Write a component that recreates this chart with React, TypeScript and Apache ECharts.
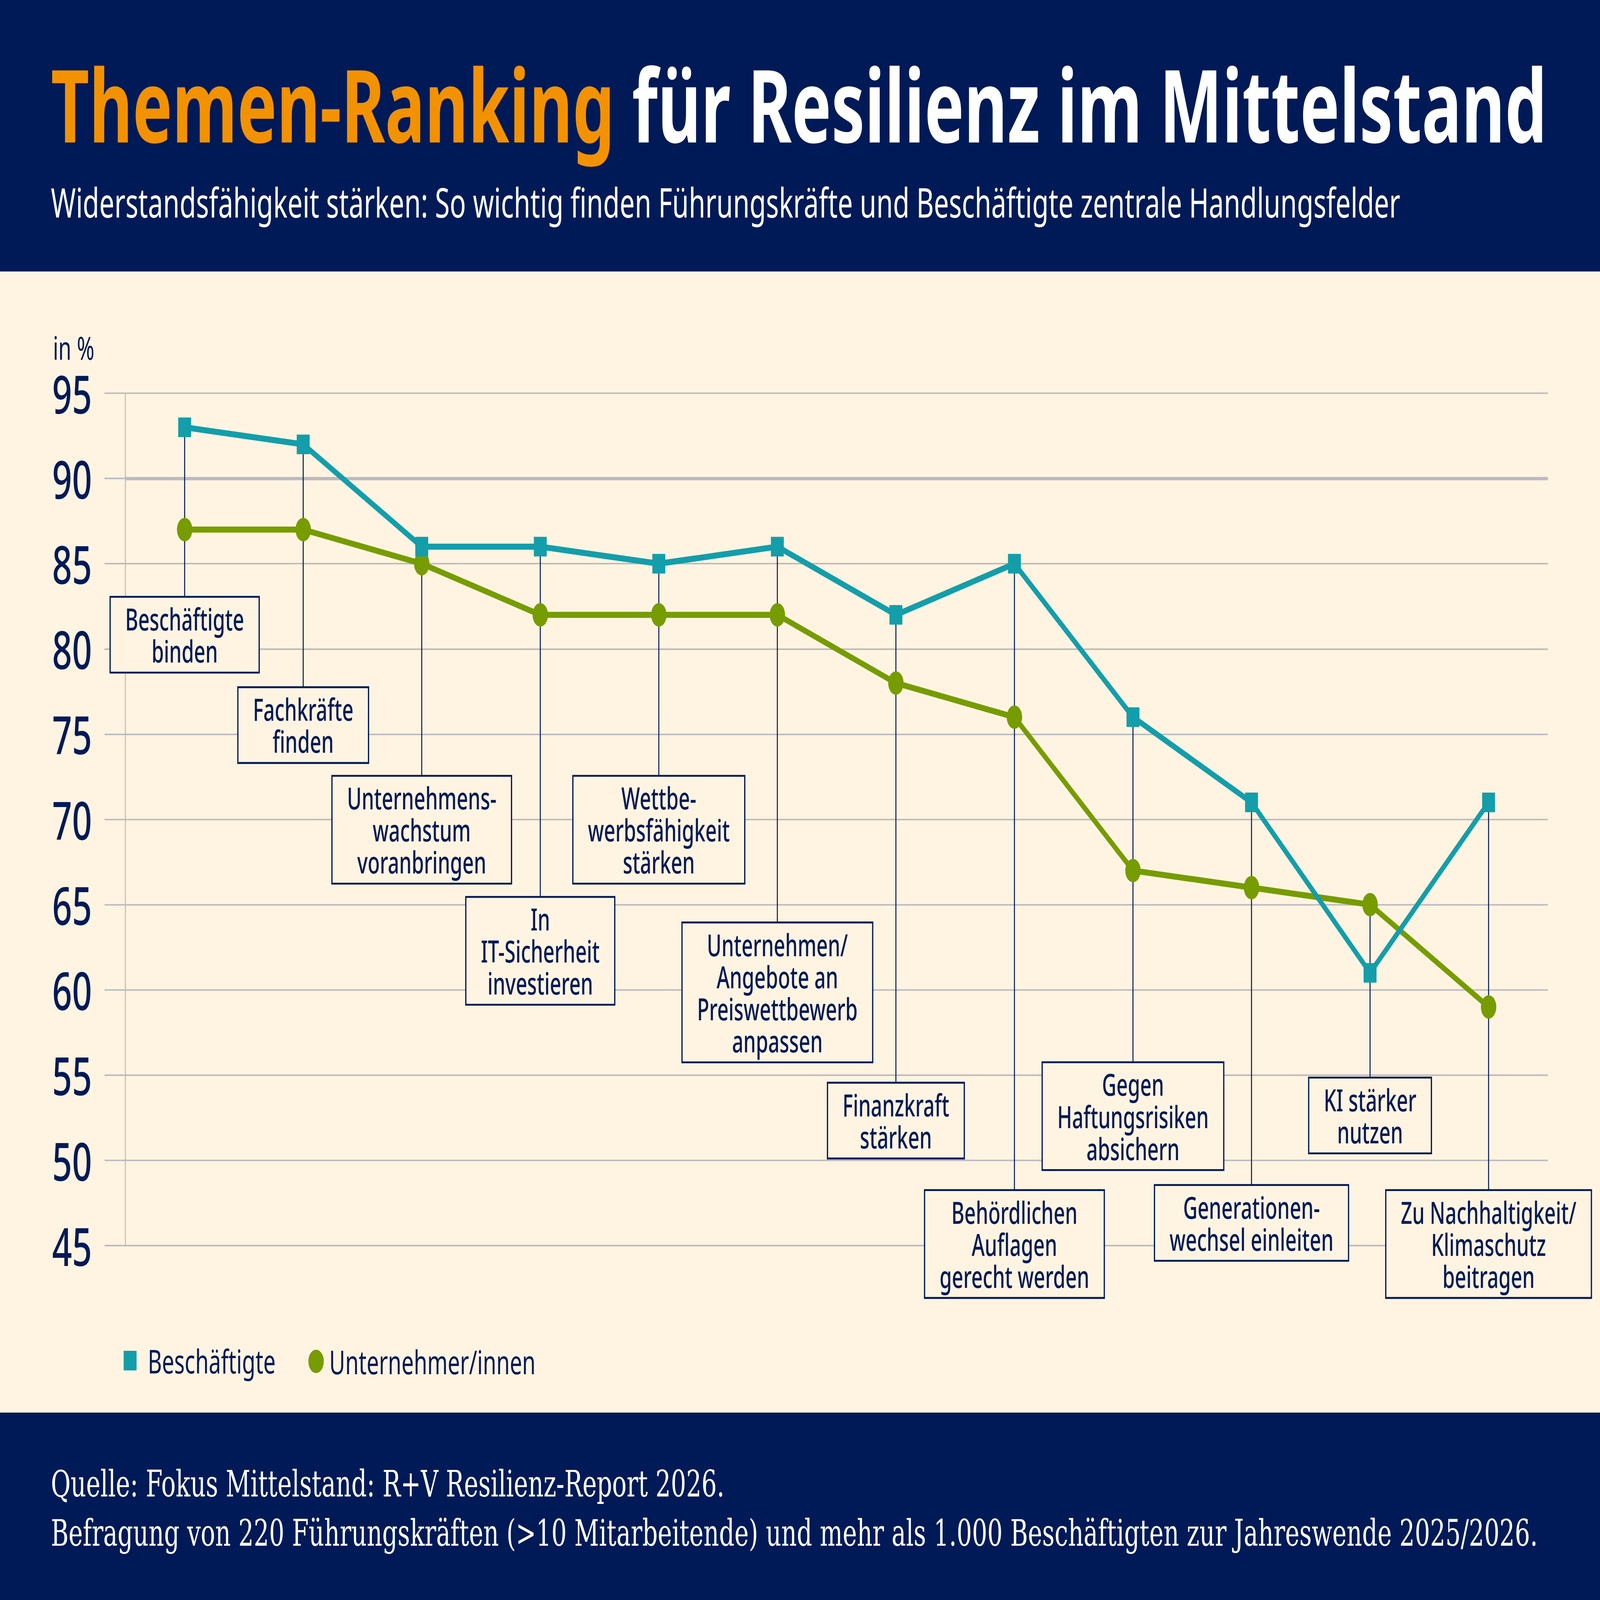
import React, { useEffect, useRef } from 'react'
import * as echarts from 'echarts'

const categories = [
  'Beschäftigte\nbinden',
  'Fachkräfte\nfinden',
  'Unternehmens-\nwachstum\nvoranbringen',
  'In\nIT-Sicherheit\ninvestieren',
  'Wettbe-\nwerbsfähigkeit\nstärken',
  'Unternehmen/\nAngebote an\nPreiswettbewerb\nanpassen',
  'Finanzkraft\nstärken',
  'Behördlichen\nAuflagen\ngerecht werden',
  'Gegen\nHaftungsrisiken\nabsichern',
  'Generationen-\nwechsel einleiten',
  'KI stärker\nnutzen',
  'Zu Nachhaltigkeit/\nKlimaschutz\nbeitragen',
]
const beschaeftigte = [93, 92, 86, 86, 85, 86, 82, 85, 76, 71, 61, 71]
const unternehmer = [87, 87, 85, 82, 82, 82, 78, 76, 67, 66, 65, 59]
// top edge of each label box, in axis units
const boxTop = [83, 77.7, 72.5, 65.4, 72.5, 63.9, 54.5, 48.2, 55.7, 48.5, 54.8, 48.2]
const yMin = 45
const yMax = 95
const yStep = 5

const W = 6444
const H = 4244
const NAVY = '#001A57'
const ORANGE = '#F39200'
const TEAL = '#139EAA'
const GREEN = '#769C00'
const CREAM = '#FFF4E1'
const GRID = '#BCB9C1'
const SANS = "'Noto Sans', sans-serif"
const SERIF = "'DejaVu Serif', serif"

export default function App() {
  const ref = useRef<HTMLDivElement | null>(null)
  // the window may be smaller than the drawing: stretch the drawing onto it
  const vw = window.innerWidth || W
  const vh = window.innerHeight || H

  useEffect(() => {
    if (!ref.current) return
    const chart = echarts.init(ref.current, null, { renderer: 'svg' })

    chart.setOption({
      animation: false,
      backgroundColor: CREAM,
      graphic: [
        { type: 'rect', shape: { x: 0, y: 0, width: W, height: 720 }, style: { fill: NAVY }, z: 0 },
        { type: 'rect', shape: { x: 0, y: 3747, width: W, height: H - 3747 }, style: { fill: NAVY }, z: 0 },
        {
          type: 'text', x: 205, y: 274, z: 10,
          style: {
            text: '{o|Themen-Ranking}{w| für Resilienz im Mittelstand}',
            verticalAlign: 'middle',
            rich: {
              o: { fill: ORANGE, fontSize: 268, fontWeight: 'bold', fontFamily: SANS },
              w: { fill: '#FFFFFF', fontSize: 268, fontWeight: 'bold', fontFamily: SANS },
            },
          },
        },
        {
          type: 'text', x: 205, y: 536, z: 10,
          style: {
            text: 'Widerstandsfähigkeit stärken: So wichtig finden Führungskräfte und Beschäftigte zentrale Handlungsfelder',
            fill: '#FFFFFF', fontSize: 108, fontFamily: SANS, verticalAlign: 'middle',
          },
        },
        {
          type: 'text', x: 213, y: 921, z: 10,
          style: { text: 'in %', fill: NAVY, fontSize: 85, fontFamily: SANS, verticalAlign: 'middle' },
        },
        {
          type: 'text', x: 205, y: 3936, z: 10,
          style: { text: 'Quelle: Fokus Mittelstand: R+V Resilienz-Report 2026.', fill: '#FFFFFF', fontSize: 97, fontFamily: SERIF, verticalAlign: 'middle' },
        },
        {
          type: 'text', x: 205, y: 4066, z: 10,
          style: { text: 'Befragung von 220 Führungskräften (>10 Mitarbeitende) und mehr als 1.000 Beschäftigten zur Jahreswende 2025/2026.', fill: '#FFFFFF', fontSize: 97, fontFamily: SERIF, verticalAlign: 'middle' },
        },
      ],
      legend: [
        {
          data: [{ name: 'Beschäftigte', icon: 'rect' }],
          left: 498, top: 3565, padding: 0, selectedMode: false,
          itemWidth: 52, itemHeight: 52,
          textStyle: { color: NAVY, fontSize: 88, fontFamily: SANS, padding: [0, 0, 0, 40] },
        },
        {
          data: [{ name: 'Unternehmer/innen', icon: 'circle' }],
          left: 1242, top: 3567, padding: 0, selectedMode: false,
          itemWidth: 62, itemHeight: 62,
          textStyle: { color: NAVY, fontSize: 88, fontFamily: SANS, padding: [0, 0, 0, 17] },
        },
      ],
      grid: { left: 505, right: 210, top: 1043, bottom: 940 },
      xAxis: {
        type: 'category',
        data: categories,
        boundaryGap: true,
        axisLine: { show: false },
        axisTick: { show: false },
        axisLabel: { show: false },
      },
      yAxis: {
        type: 'value',
        min: yMin,
        max: yMax,
        interval: yStep,
        axisLine: { show: true, lineStyle: { color: GRID, width: 4 } },
        axisTick: { show: true, length: 84, lineStyle: { color: GRID, width: 4 } },
        axisLabel: {
          color: NAVY, fontSize: 140, fontWeight: 500, fontFamily: SANS,
          align: 'left', margin: 295,
        },
        splitLine: { lineStyle: { color: GRID, width: 4 } },
      },
      series: [
        {
          name: 'labels',
          type: 'custom',
          z: 1,
          silent: true,
          clip: false,
          encode: { x: 0, y: 1 },
          data: categories.map((c, i) => [i, Math.max(beschaeftigte[i], unternehmer[i]), boxTop[i]]),
          renderItem: (params: any, api: any) => {
            const i = params.dataIndex
            const p1 = api.coord([api.value(0), api.value(1)])
            const p2 = api.coord([api.value(0), api.value(2)])
            return {
              type: 'group',
              children: [
                {
                  type: 'line',
                  shape: { x1: p1[0], y1: p1[1], x2: p2[0], y2: p2[1] },
                  style: { stroke: NAVY, lineWidth: 4 },
                },
                {
                  type: 'text',
                  x: p2[0],
                  y: p2[1],
                  style: {
                    text: categories[i],
                    align: 'center',
                    verticalAlign: 'top',
                    fill: NAVY,
                    fontSize: 80,
                    fontWeight: 500,
                    fontFamily: SANS,
                    lineHeight: 85,
                    backgroundColor: CREAM,
                    borderColor: NAVY,
                    borderWidth: 5,
                    padding: [13, 58],
                  },
                },
              ],
            }
          },
        },
        {
          name: 'Beschäftigte',
          type: 'line',
          z: 4,
          data: beschaeftigte,
          symbol: 'rect',
          symbolSize: 52,
          itemStyle: { color: TEAL },
          lineStyle: { color: TEAL, width: 16 },
          markLine: {
            silent: true,
            z: 1,
            symbol: ['none', 'none'],
            label: { show: false },
            lineStyle: { color: GRID, width: 9, type: 'solid' },
            data: [{ yAxis: 90 }],
          },
        },
        {
          name: 'Unternehmer/innen',
          type: 'line',
          z: 3,
          data: unternehmer,
          symbol: 'circle',
          symbolSize: 62,
          itemStyle: { color: GREEN },
          lineStyle: { color: GREEN, width: 16 },
        },
      ],
    } as any)

    return () => chart.dispose()
  }, [])

  return (
    <div style={{ position: 'absolute', left: 0, top: 0, width: vw, height: vh, overflow: 'hidden', background: CREAM }}>
      <div
        ref={ref}
        style={{
          width: W,
          height: H,
          transform: `scale(${vw / W}, ${vh / H})`,
          transformOrigin: '0 0',
        }}
      />
    </div>
  )
}
